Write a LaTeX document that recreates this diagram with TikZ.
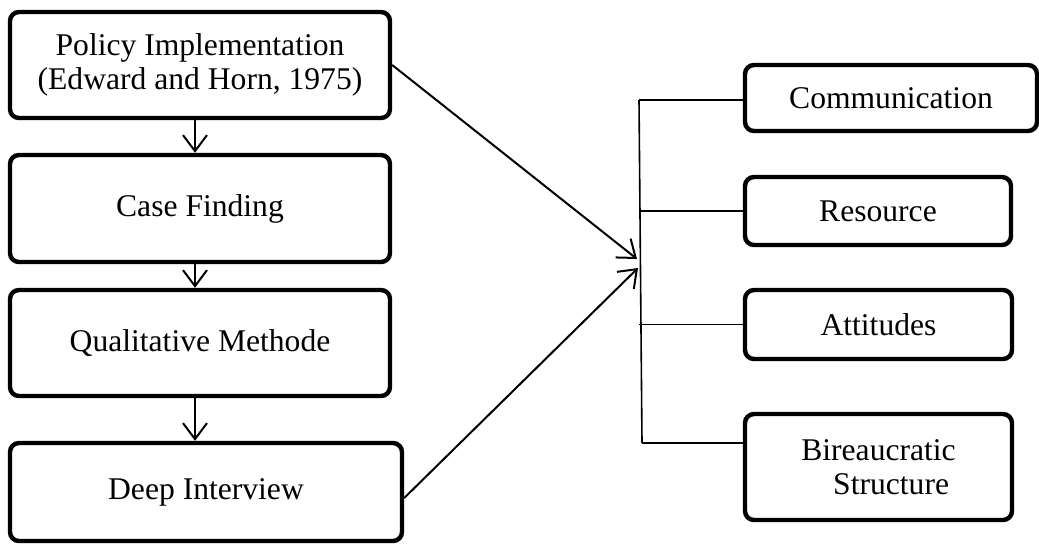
\documentclass[tikz,border=0pt]{standalone}
\usepackage{fontspec}
\setmainfont{Liberation Serif}
\usetikzlibrary{arrows.meta}
\begin{document}
\begin{tikzpicture}[x=0.5pt,y=-0.5pt,
  box/.style={draw,line width=2.2pt,rounded corners=4.5pt,align=center,inner sep=0pt,font=\fontsize{15.8}{17}\selectfont},
  conn/.style={line width=1pt,-{Straight Barb[length=8pt,width=12pt,line width=1pt]}},
  bus/.style={line width=0.8pt}]
\useasboundingbox (0,0) rectangle (1039,543);
\node[box,minimum width=190pt,minimum height=53pt] (b1) at (200,65) {Policy Implementation\\(Edward and Horn, 1975)};
\node[box,minimum width=190pt,minimum height=53.5pt] (b2) at (200,208.5) {Case Finding};
\node[box,minimum width=190pt,minimum height=53pt] (b3) at (200,343) {Qualitative Methode};
\node[box,minimum width=196pt,minimum height=49pt] (b4) at (206,492) {Deep Interview};
\node[box,minimum width=146pt,minimum height=33pt] (c1) at (891,98) {Communication};
\node[box,minimum width=133pt,minimum height=34pt] (c2) at (878,211) {Resource};
\node[box,minimum width=133.5pt,minimum height=34.5pt] (c3) at (878.5,324.5) {Attitudes};
\node[box,minimum width=133.5pt,minimum height=53pt] (c4) at (878.5,467) {Bireaucratic\\\hspace*{0.8em}Structure};
\coordinate (t1) at (637,259);
\coordinate (t2) at (638,268);
\coordinate (bt) at (639,100);
\coordinate (bb) at (642,443);
\draw[conn] ([xshift=-2.5pt]b1.south) -- ([xshift=-2.5pt]b2.north);
\draw[conn] ([xshift=-2.5pt]b2.south) -- ([xshift=-2.5pt]b3.north);
\draw[conn] ([xshift=-2.5pt]b3.south) -- ([xshift=-2.5pt]b3.south |- b4.north);
\draw[conn] (b1.east) -- (t1);
\draw[conn] ([yshift=-3pt]b4.east) -- (t2);
\draw[bus] (bt) -- (bb);
\draw[bus] (bt) -- (bt -| c1.west);
\draw[bus] (c2.west -| bt) -- (c2.west);
\draw[bus] (c3.west -| bt) -- (c3.west);
\draw[bus] (bb) -- (bb -| c4.west);
\end{tikzpicture}
\end{document}
